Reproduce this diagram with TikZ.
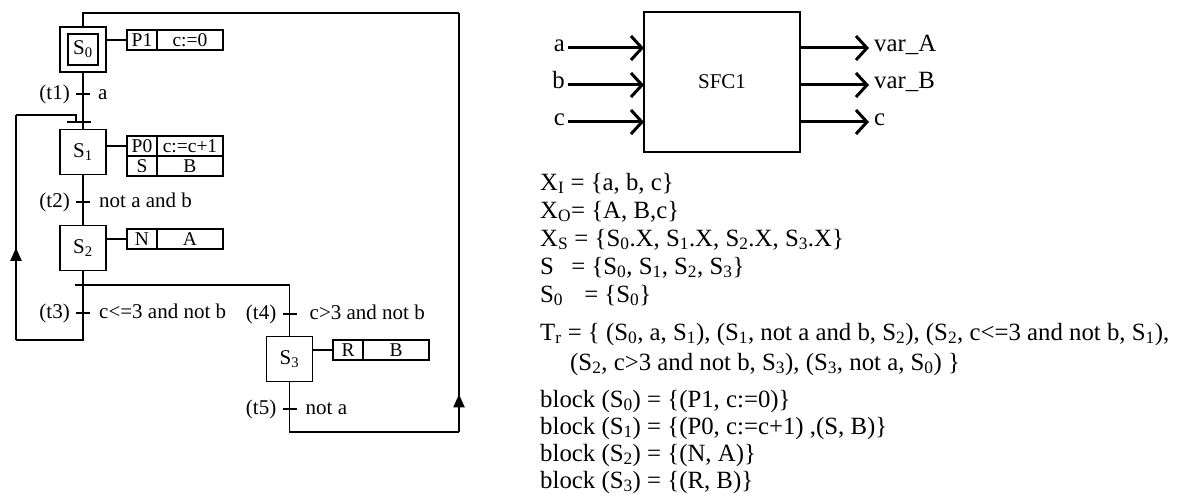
\documentclass[tikz,border=0pt]{standalone}
\usepackage{fontspec}
\setmainfont{Liberation Serif}
\usetikzlibrary{positioning, arrows.meta, decorations.markings}

\newcommand{\sstep}[1]{S\textsubscript{#1}}
\newcommand{\sfcfont}{\fontsize{21}{25}\selectfont}
\newcommand{\cellfont}{\fontsize{19.5}{22}\selectfont}
\newcommand{\txtfont}{\fontsize{24.8}{28}\selectfont}

\tikzset{
  stepbox/.style={draw, line width=1.6pt, minimum width=46pt, minimum height=45pt, inner sep=0pt, outer sep=0pt},
  innerbox/.style={draw, line width=1.6pt, minimum width=30pt, minimum height=31pt, inner sep=0pt, outer sep=0pt},
  qualcell/.style={draw, line width=1.6pt, minimum width=30pt, minimum height=20pt, inner sep=0pt, outer sep=0pt, font=\cellfont},
  actcell/.style={draw, line width=1.6pt, minimum width=66pt, minimum height=20pt, inner sep=0pt, outer sep=0pt, font=\cellfont},
  tbar/.style={fill, minimum width=14pt, minimum height=1.8pt, inner sep=0pt, outer sep=0pt},
  tlabel/.style={inner sep=1pt, text height=15pt, text depth=4pt},
  siglabel/.style={inner sep=3pt, text height=14pt, text depth=6pt, font=\txtfont},
  txt/.style={anchor=base west, inner sep=0pt, font=\txtfont},
  link/.style={line width=1.9pt},
  stub/.style={line width=1.6pt},
  midarrow/.style={postaction={decorate}, decoration={markings,
    mark=at position #1 with {\arrow{Triangle[width=11pt,length=13pt]}}}},
  sigarrow/.style={line width=3pt, -{Straight Barb[length=11pt,width=24pt]}},
}

\begin{document}
\begin{tikzpicture}[x=1pt, y=-1pt, every node/.style={font=\sfcfont}]
  \useasboundingbox (0,0) rectangle (1178,500);

  % steps
  \node[stepbox] (S0) at (83,49.5) {};
  \node[innerbox] (S0i) at (S0.center) {\sstep{0}};
  \node[stepbox] (S1) at (83,152) {\sstep{1}};
  \node[stepbox] (S2) at (83,248) {\sstep{2}};
  \node[stepbox] (S3) at (289.5,359) {\sstep{3}};

  % action blocks
  \node[qualcell] (q0) at (142,40) {P1};
  \node[actcell, right=0pt of q0] (a0) {c:=0};
  \node[qualcell] (q1) at (142,146) {P0};
  \node[actcell, right=0pt of q1] (a1) {c:=c+1};
  \node[qualcell, below=0pt of q1] (q1b) {S};
  \node[actcell, right=0pt of q1b] (a1b) {B};
  \node[qualcell] (q2) at (142,239) {N};
  \node[actcell, right=0pt of q2] (a2) {A};
  \node[qualcell] (q3) at (348,350) {R};
  \node[actcell, right=0pt of q3] (a3) {B};

  \draw[stub] (S0.east |- q0) -- (q0);
  \draw[stub] (S1.east |- q1) -- (q1);
  \draw[stub] (S2.east |- q2) -- (q2);
  \draw[stub] (S3.east |- q3) -- (q3);

  % transitions
  \node[tbar] (t1) at (83,94) {};
  \node[tlabel, left=5pt of t1] (t1n) {(t1)};
  \node[tlabel, right=7pt of t1] (t1c) {a};
  \node[tbar] (t2) at (83,202) {};
  \node[tlabel, left=5pt of t2] (t2n) {(t2)};
  \node[tlabel, right=8pt of t2] (t2c) {not a and b};
  \node[tbar] (t3) at (83,313) {};
  \node[tlabel, left=5pt of t3] (t3n) {(t3)};
  \node[tlabel, right=8pt of t3] (t3c) {c<=3 and not b};
  \node[tbar] (t4) at (289.5,314) {};
  \node[tlabel, left=5pt of t4] (t4n) {(t4)};
  \node[tlabel, right=12pt of t4] (t4c) {c>3 and not b};
  \node[tbar] (t5) at (289.5,409) {};
  \node[tlabel, left=5pt of t5] (t5n) {(t5)};
  \node[tlabel, right=8pt of t5] (t5c) {not a};
  \node[tbar, minimum width=24pt] (j1) at (79,122) {};

  \coordinate (d0) at (75,285);
  \coordinate (d1) at (S3.north |- d0);
  \coordinate (lb) at (16,340);
  \coordinate (lt) at (16,115);
  \coordinate (jt) at (76,115);
  \coordinate (rb) at (459,432);
  \coordinate (rt) at (459,13);

  % links
  \draw[link] (S0) -- (S1);
  \draw[link] (S1) -- (S2);
  \draw[link] (S2.south) -- (S2.south |- lb) -- (lb);
  \draw[link, midarrow=0.41] (lb) -- (lt);
  \draw[link] (lt) -- (jt) -- (jt |- j1.north);
  \draw[link] (d0) -- (d1) -- (S3.north);
  \draw[link] (S3.south) |- (rb);
  \draw[link, midarrow=0.09] (rb) -- (rt);
  \draw[link] (rt) -| (S0.north);

  % block SFC1
  \node[draw, line width=1.6pt, minimum width=156pt, minimum height=140pt,
        inner sep=0pt, outer sep=0pt] (sfc) at (722,82) {SFC1};
  \node[siglabel, anchor=east] (ia) at (568,48) {a};
  \node[siglabel, anchor=east] (ib) at (568,85) {b};
  \node[siglabel, anchor=east] (ic) at (568,122) {c};
  \node[siglabel, anchor=west] (oa) at (871,48) {var\_A};
  \node[siglabel, anchor=west] (ob) at (871,85) {var\_B};
  \node[siglabel, anchor=west] (oc) at (871,122) {c};
  \foreach \s in {a,b,c} {
    \draw[sigarrow] (i\s.east) -- (i\s.east -| sfc.west);
    \draw[sigarrow, shorten >=2pt] (sfc.east |- o\s.west) -- (o\s.west);
  }

  % formal description
  \node[txt] (xi) at (540,190) {X\textsubscript{I} = \{a, b, c\}};
  \node[txt] (xo) at (540,218) {X\textsubscript{O}= \{A, B,c\}};
  \node[txt] (xs) at (540,246) {X\textsubscript{S} = \{\sstep{0}.X, \sstep{1}.X, \sstep{2}.X, \sstep{3}.X\}};
  \node[txt] (ss) at (540,274) {S\hspace{0.7em}= \{\sstep{0}, \sstep{1}, \sstep{2}, \sstep{3}\}};
  \node[txt] (s0) at (540,302) {\sstep{0}\hspace{0.85em}= \{\sstep{0}\}};
  \node[txt] (tr) at (540,340) {T\textsubscript{r} = \{ (\sstep{0}, a, \sstep{1}), (\sstep{1}, not a and b, \sstep{2}), (\sstep{2}, c<=3 and not b, \sstep{1}),};
  \node[txt] (tr2) at (570,370) {(\sstep{2}, c>3 and not b, \sstep{3}), (\sstep{3}, not a, \sstep{0}) \}};
  \node[txt] (b0) at (540,407) {block (\sstep{0}) = \{(P1, c:=0)\}};
  \node[txt] (b1) at (540,434) {block (\sstep{1}) = \{(P0, c:=c+1) ,(S, B)\}};
  \node[txt] (b2) at (540,461) {block (\sstep{2}) = \{(N, A)\}};
  \node[txt] (b3) at (540,488) {block (\sstep{3}) = \{(R, B)\}};
\end{tikzpicture}
\end{document}
